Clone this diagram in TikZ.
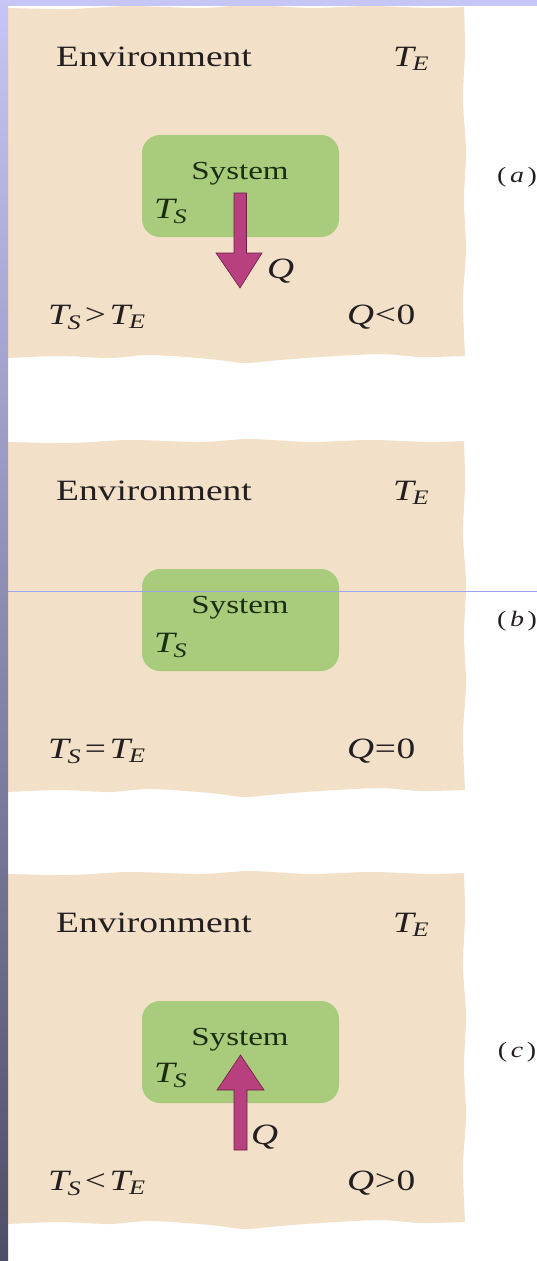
\documentclass[tikz,border=0pt]{standalone}
\usepackage{fontspec}
\setmainfont[FakeStretch=1.27]{Liberation Serif}
\definecolor{barTop}{HTML}{C6C6F6}
\definecolor{barBot}{HTML}{4E4E68}
\definecolor{panel}{HTML}{F3E0C8}
\definecolor{sysgreen}{HTML}{A8CC7C}
\definecolor{arrowfill}{HTML}{B8407E}
\definecolor{arrowline}{HTML}{6E1E46}
\definecolor{txt}{HTML}{231F20}
\definecolor{gtxt}{HTML}{1C2E12}
\definecolor{rule}{HTML}{9CA4EA}
\newcommand{\TSub}[1]{\textit{T}\kern-0.12em\textsubscript{\textit{#1}}}
\newcommand{\PanelShape}{%
  \fill[panel] (8,8)
    -- plot[smooth, tension=0.5] coordinates {(8,8) (70,9) (130,6) (200,8) (250,5) (310,8) (370,6) (430,8) (464,7)}
    -- plot[smooth, tension=0.5] coordinates {(464,7) (465,50) (463,100) (466,150) (464,200) (466,250) (463,300) (465,356)}
    -- plot[smooth, tension=0.5] coordinates {(465,356) (420,357) (380,354) (320,357) (280,360) (245,363) (210,359) (150,355) (110,358) (60,356) (8,358)}
    -- cycle;}
\tikzset{
  envtext/.style={anchor=base west, inner sep=0pt, text=txt, font=\fontsize{29.5}{31}\selectfont},
  systext/.style={anchor=base, inner sep=0pt, text=gtxt, font=\fontsize{26}{28}\selectfont},
  tstext/.style={anchor=base west, inner sep=0pt, text=gtxt, font=\fontsize{29.5}{31}\selectfont},
  partlabel/.style={anchor=center, inner sep=0pt, text=txt, font=\fontsize{22}{24}\selectfont},
  sysbox/.style={fill=sysgreen, rounded corners=18pt, minimum width=197pt, minimum height=102pt, inner sep=0pt},
  heatarrow/.style={fill=arrowfill, draw=arrowline, line width=0.6pt, line join=miter},
}
\begin{document}
\begin{tikzpicture}[x=1pt, y=-1pt]
\useasboundingbox (0,0) rectangle (537,1261);
\fill[white] (0,0) rectangle (537,1261);
% panel (a)
\begin{scope}
  \PanelShape
  \node[sysbox] (boxA) at (240.5,186) {};
  \node[envtext] (envA) at (56,66) {Environment};
  \node[envtext] (teA) at (393,66) {\TSub{E}};
  \node[systext] (sysA) at (240,179) {System};
  \node[tstext] (tsA) at (154,218) {\TSub{S}};
  \path[heatarrow] (234,193) -- (246.5,193) -- (246.5,253) -- (262,253) -- (240,288) -- (216,253) -- (234,253) -- cycle;
  \node[envtext] (qA) at (267,278) {\textit{Q}};
  \node[envtext] (condA) at (48,324) {\TSub{S}\kern0.12em>\kern0.12em\TSub{E}};
  \node[envtext] (signA) at (347,324) {\textit{Q}\kern0.02em<\kern0.02em0};
  \node[partlabel] (labA) at (517,177) {(\,\textit{a}\,)};
\end{scope}
% panel (b)
\begin{scope}[shift={(0,434)}]
  \PanelShape
  \node[sysbox] (boxB) at (240.5,186) {};
  \node[envtext] (envB) at (56,66) {Environment};
  \node[envtext] (teB) at (393,66) {\TSub{E}};
  \node[systext] (sysB) at (240,179) {System};
  \node[tstext] (tsB) at (154,218) {\TSub{S}};
  \node[envtext] (condB) at (48,324) {\TSub{S}\kern0.12em=\kern0.12em\TSub{E}};
  \node[envtext] (signB) at (347,324) {\textit{Q}\kern0.02em=\kern0.02em0};
  \node[partlabel] (labB) at (517,187) {(\,\textit{b}\,)};
\end{scope}
% panel (c)
\begin{scope}[shift={(0,866)}]
  \PanelShape
  \node[sysbox] (boxC) at (240.5,186) {};
  \node[envtext] (envC) at (56,66) {Environment};
  \node[envtext] (teC) at (393,66) {\TSub{E}};
  \node[systext] (sysC) at (240,179) {System};
  \node[tstext] (tsC) at (154,216) {\TSub{S}};
  \path[heatarrow] (234,284) -- (247,284) -- (247,224) -- (264,224) -- (240.5,189) -- (217,224) -- (234,224) -- cycle;
  \node[envtext] (qC) at (251,278) {\textit{Q}};
  \node[envtext] (condC) at (48,324) {\TSub{S}\kern0.12em<\kern0.12em\TSub{E}};
  \node[envtext] (signC) at (347,324) {\textit{Q}\kern0.02em>\kern0.02em0};
  \node[partlabel] (labC) at (517,186) {(\,\textit{c}\,)};
\end{scope}
% decorations of the slide
\draw[rule, line width=1pt] (8,591) -- (537,591);
\fill[barTop] (0,0) rectangle (537,6);
\shade[top color=barTop, bottom color=barBot] (0,0) rectangle (8,1261);
\end{tikzpicture}
\end{document}
